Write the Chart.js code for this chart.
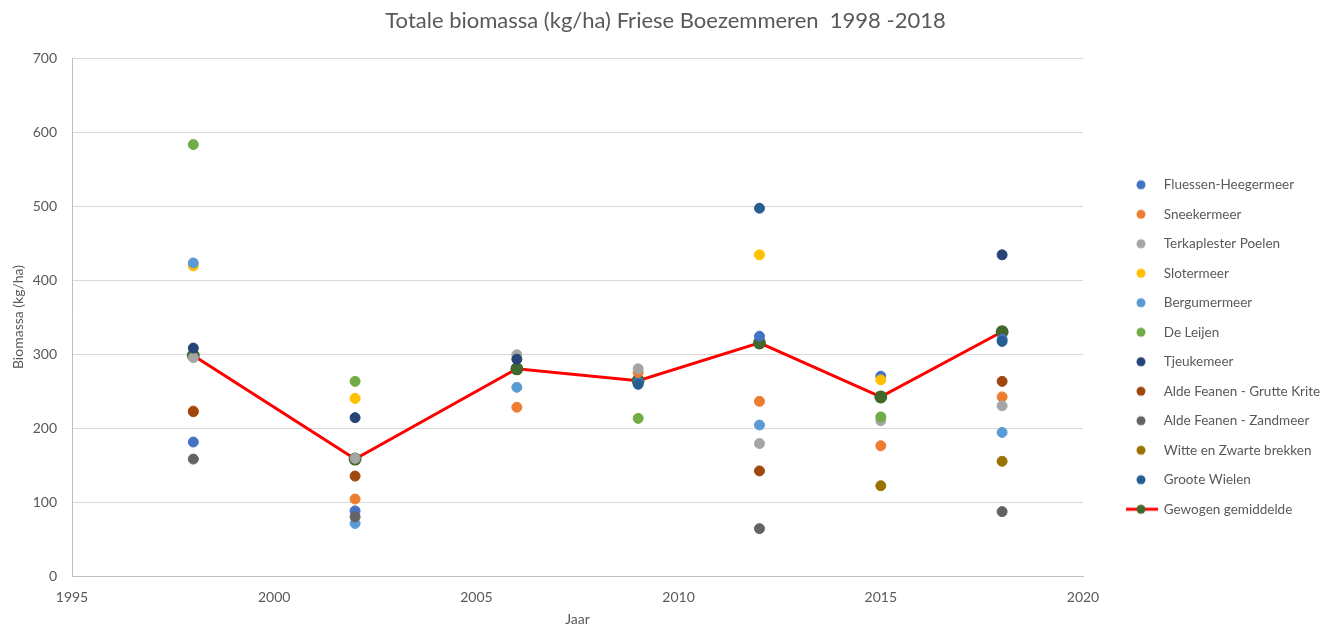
<!DOCTYPE html>
<html>
<head>
<meta charset="utf-8">
<script src="https://cdn.jsdelivr.net/npm/chart.js@4.4.1/dist/chart.umd.min.js"></script>
<style>
  html, body { margin: 0; background: #fff; }
  #wrap { width: 1331px; height: 628px; }
</style>
</head>
<body>
<div id="wrap"><canvas id="chart"></canvas></div>
<script>
const years = [1998, 2002, 2006, 2009, 2012, 2015, 2018];

const fluessen     = [181, 88, null, 262, 324, 270, 320];
const sneekermeer  = [223, 104, 228, 275, 236, 176, 242];
const terkaplester = [295, 159, 299, 280, 179, 210, 230];
const slotermeer   = [419, 240, null, null, 434, 265, null];
const bergumermeer = [423, 71, 255, null, 204, null, 194];
const deLeijen     = [583, 263, null, 213, null, 215, null];
const tjeukemeer   = [308, 214, 293, null, null, null, 434];
const grutteKrite  = [222, 135, null, null, 142, null, 263];
const zandmeer     = [158, 80, null, null, 64, null, 87];
const witteZwarte  = [null, null, null, null, null, 122, 155];
const grooteWielen = [null, null, null, 259, 497, null, 317];
const gemiddelde   = [298, 158, 280, 264, 315, 242, 330];

const lakes = [
  ["Fluessen-Heegermeer", fluessen, "#4472C4"],
  ["Sneekermeer", sneekermeer, "#ED7D31"],
  ["Terkaplester Poelen", terkaplester, "#A5A5A5"],
  ["Slotermeer", slotermeer, "#FFC000"],
  ["Bergumermeer", bergumermeer, "#5B9BD5"],
  ["De Leijen", deLeijen, "#70AD47"],
  ["Tjeukemeer", tjeukemeer, "#264478"],
  ["Alde Feanen - Grutte Krite", grutteKrite, "#9E480E"],
  ["Alde Feanen - Zandmeer", zandmeer, "#636363"],
  ["Witte en Zwarte brekken", witteZwarte, "#997300"],
  ["Groote Wielen", grooteWielen, "#255E91"]
];

const toPoints = vals => years.map((x, i) => ({ x: x, y: vals[i] })).filter(p => p.y !== null);

// little images for the legend markers
function legendIcon(color, withLine) {
  const c = document.createElement("canvas");
  c.width = 60; c.height = 12;
  const g = c.getContext("2d");
  if (withLine) {
    g.strokeStyle = "#FF0000"; g.lineWidth = 3;
    g.beginPath(); g.moveTo(28, 6); g.lineTo(60, 6); g.stroke();
  }
  g.fillStyle = color;
  g.beginPath(); g.arc(43, 6, 4.5, 0, Math.PI * 2); g.fill();
  return c;
}

const datasets = lakes.map(([name, vals, color], i) => ({
  type: "scatter",
  label: name,
  data: toPoints(vals),
  backgroundColor: color,
  borderColor: color,
  pointRadius: 5,
  pointHoverRadius: 5,
  order: 20 - i,
  icon: legendIcon(color, false)
}));
datasets.push({
  type: "line",
  label: "Gewogen gemiddelde",
  data: toPoints(gemiddelde),
  borderColor: "#FF0000",
  borderWidth: 3,
  backgroundColor: "#43682B",
  pointBackgroundColor: "#43682B",
  pointBorderColor: "#43682B",
  pointRadius: 5,
  tension: 0,
  order: 30,
  icon: legendIcon("#43682B", true)
});

const grey = "#595959";
const font = "Lato";

new Chart(document.getElementById("chart"), {
  data: { datasets },
  options: {
    responsive: true,
    maintainAspectRatio: false,
    animation: false,
    layout: { padding: 0 },
    plugins: {
      title: {
        display: true,
        text: "Totale biomassa (kg/ha) Friese Boezemmeren  1998 -2018",
        color: grey,
        font: { family: font, size: 22, weight: "normal" },
        padding: { top: 8, bottom: 23.6 }
      },
      legend: {
        position: "right",
        title: { display: true, text: " ", font: { family: font, size: 10 }, padding: { top: 54, bottom: 0 } },
        labels: {
          color: grey,
          font: { family: font, size: 13.5 },
          usePointStyle: true,
          boxHeight: 10,
          pointStyleWidth: 58,
          padding: 16,
          generateLabels: chart => chart.data.datasets.map((ds, i) => ({
            text: ds.label,
            pointStyle: ds.icon,
            fillStyle: ds.backgroundColor,
            strokeStyle: ds.backgroundColor,
            lineWidth: 0,
            hidden: false,
            datasetIndex: i,
            fontColor: grey
          }))
        }
      },
      tooltip: { enabled: false }
    },
    scales: {
      x: {
        type: "linear",
        min: 1995, max: 2020,
        ticks: { stepSize: 5, color: grey, font: { family: font, size: 14 }, padding: 13, callback: v => String(v) },
        grid: { display: false, drawTicks: false },
        border: { display: true, color: "#BFBFBF", width: 1 },
        title: { display: true, text: "Jaar", color: grey, font: { family: font, size: 14 }, padding: { top: 4, bottom: 0 } },
        afterFit: s => { s.height = 52; }
      },
      y: {
        min: 0, max: 700,
        ticks: { stepSize: 100, color: grey, font: { family: font, size: 14 }, padding: 15 },
        grid: { color: "#D9D9D9", drawTicks: false },
        border: { display: true, color: "#BFBFBF", width: 1 },
        title: { display: true, text: "Biomassa (kg/ha)", color: grey, font: { family: font, size: 14 }, padding: { top: 9.6, bottom: 2 } },
        afterFit: s => { s.width = 72; }
      }
    }
  },
  plugins: [{
    id: "legendWidth",
    beforeLayout(chart) {
      const lg = chart.legend;
      if (lg && !lg._fixed) {
        const fit = lg.fit.bind(lg);
        lg.fit = function () { fit(); this.width = 248; };
        lg._fixed = true;
      }
    }
  }]
});
</script>
</body>
</html>
